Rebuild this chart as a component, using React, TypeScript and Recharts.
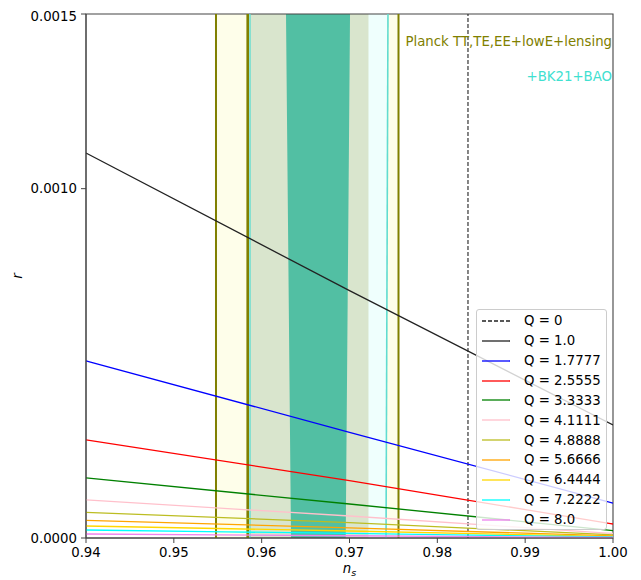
import React from 'react';
import {
  ComposedChart,
  Line,
  Area,
  XAxis,
  YAxis,
  ReferenceArea,
  ReferenceLine,
  ReferenceDot,
  Legend,
} from 'recharts';

const FONT = '"DejaVu Sans", sans-serif';

// n_s sample points of each Q curve
const NS_POINTS = [0.94, 0.97, 1.0];

// r along each curve at NS_POINTS
const R_Q1 = [0.001102, 0.000708, 0.0003235];
const R_Q17777 = [0.000507, 0.0003026, 0.0001];
const R_Q25555 = [0.000281, 0.000164, 0.00004];
const R_Q33333 = [0.000172, 0.0000973, 0.000021];
const R_Q41111 = [0.000109, 0.000063, 0.000013];
const R_Q48888 = [0.0000735, 0.000044, 0.000009];
const R_Q56666 = [0.0000507, 0.000029, 0.000006];
const R_Q64444 = [0.0000344, 0.00002, 0.000004];
const R_Q72222 = [0.0000229, 0.000013, 0.000003];
const R_Q8 = [0.0000115, 0.0000065, 0.0000015];

const Q_NAMES = ['Q = 1.0', 'Q = 1.7777', 'Q = 2.5555', 'Q = 3.3333', 'Q = 4.1111',
  'Q = 4.8888', 'Q = 5.6666', 'Q = 6.4444', 'Q = 7.2222', 'Q = 8.0'];
const Q_COLORS = ['#222222', '#0000ff', '#ff0000', '#008000', '#ffc0cb',
  '#bcbd22', '#ffa500', '#ffd700', '#00ffff', '#ee82ee'];
const Q_VALUES = [R_Q1, R_Q17777, R_Q25555, R_Q33333, R_Q41111,
  R_Q48888, R_Q56666, R_Q64444, R_Q72222, R_Q8];

// Q = 0 prediction (vertical line)
const NS_Q0 = 0.98349;

// constraint bands in n_s
const PLANCK_2SIG = [0.9548, 0.97558];
const PLANCK_1SIG_LEFT = 0.95841;
const BK_2SIG = [0.95867, 0.97427];
const BK_2SIG_RIGHT_EDGE = [0.97416, 0.97438]; // bottom, top
const OVERLAP = [0.95863, 0.97216];
const BK_1SIG_TOP = [0.96277, 0.97006];
const BK_1SIG_BOTTOM = [0.96334, 0.96957];

const X_TICKS = [0.94, 0.95, 0.96, 0.97, 0.98, 0.99, 1.0];
const Y_TICKS = [0, 0.001, 0.0015];

const seriesData = (vals: number[]) => NS_POINTS.map((ns, i) => ({ ns, r: vals[i] }));

const bk1Data = [
  { ns: BK_1SIG_BOTTOM[0], r: 0 },
  { ns: BK_1SIG_TOP[0], r: 0.0015 },
  { ns: BK_1SIG_TOP[1], r: 0.0015 },
  { ns: BK_1SIG_BOTTOM[1], r: 0 },
];

const LegendBox = () => (
  <div
    style={{
      width: 131,
      height: 221,
      boxSizing: 'border-box',
      background: 'rgba(255,255,255,0.8)',
      border: '1px solid #cccccc',
      borderRadius: 3,
      paddingTop: 1,
      fontFamily: FONT,
      fontSize: 13.3,
      color: '#000',
    }}
  >
    {['Q = 0', ...Q_NAMES].map((name, i) => (
      <div key={name} style={{ display: 'flex', alignItems: 'center', height: 19.87 }}>
        <svg width={28} height={4} style={{ marginLeft: 5 }}>
          <line
            x1={0}
            x2={28}
            y1={2}
            y2={2}
            stroke={i === 0 ? '#222' : Q_COLORS[i - 1]}
            strokeWidth={1.3}
            strokeDasharray={i === 0 ? '4 2' : undefined}
          />
        </svg>
        <span style={{ marginLeft: 14, whiteSpace: 'nowrap' }}>{name}</span>
      </div>
    ))}
  </div>
);

export default function App() {
  const tickStyle = { fill: '#000', fontSize: 13.3, fontFamily: FONT };
  return (
    <div style={{ fontFamily: FONT }}>
      <ComposedChart width={633} height={572} margin={{ top: 6, right: 28, bottom: 12, left: 18 }}>
        <XAxis
          dataKey="ns"
          type="number"
          domain={[0.94, 1.0]}
          ticks={X_TICKS}
          tickFormatter={(v: number) => v.toFixed(2)}
          allowDataOverflow
          height={30}
          tickSize={5}
          tickMargin={5}
          tick={tickStyle}
          stroke="#444"
          label={{
            content: (props: any) => {
              const vb = props.viewBox;
              return (
                <text x={vb.x + vb.width / 2} y={vb.y + 35} textAnchor="middle" fontSize={13.3}
                  fontStyle="italic" fontFamily={FONT} fill="#000">
                  n<tspan dy={3} fontSize={9.5}>s</tspan>
                </text>
              );
            },
          }}
        />
        <YAxis
          type="number"
          domain={[0, 0.0015]}
          ticks={Y_TICKS}
          tickFormatter={(v: number) => v.toFixed(4)}
          allowDataOverflow
          width={60}
          tickSize={5}
          tickMargin={4}
          tick={tickStyle}
          stroke="#444"
          label={{
            content: (props: any) => {
              const vb = props.viewBox;
              const cx = 14;
              const cy = vb.y + vb.height / 2;
              return (
                <text x={cx} y={cy} textAnchor="middle" fontSize={13.3} fontStyle="italic"
                  fontFamily={FONT} fill="#000" transform={`rotate(-90 ${cx} ${cy})`}>
                  r
                </text>
              );
            },
          }}
        />

        <ReferenceArea x1={PLANCK_2SIG[0]} x2={PLANCK_2SIG[1]} fill="#fefeea" fillOpacity={1} stroke="none" />
        <ReferenceArea x1={BK_2SIG[0]} x2={BK_2SIG[1]} fill="#effffd" fillOpacity={1} stroke="none" />
        <ReferenceArea x1={OVERLAP[0]} x2={OVERLAP[1]} fill="#d9e5cd" fillOpacity={1} stroke="none" />
        <Area
          data={bk1Data}
          dataKey="r"
          type="linear"
          fill="#52bfa3"
          fillOpacity={1}
          stroke="none"
          baseValue={0}
          isAnimationActive={false}
          legendType="none"
        />

        <ReferenceLine x={PLANCK_2SIG[0]} stroke="#808000" strokeWidth={2} />
        <ReferenceLine x={PLANCK_2SIG[1]} stroke="#808000" strokeWidth={2} />
        <ReferenceLine x={PLANCK_1SIG_LEFT} stroke="#808000" strokeWidth={2.6} />
        <ReferenceLine x={BK_2SIG[0]} stroke="#60dcd0" strokeWidth={1.4} />
        <ReferenceLine
          segment={[{ x: BK_2SIG_RIGHT_EDGE[0], y: 0 }, { x: BK_2SIG_RIGHT_EDGE[1], y: 0.0015 }]}
          stroke="#60dcd0"
          strokeWidth={1.6}
        />
        <ReferenceLine x={NS_Q0} stroke="#222" strokeDasharray="4 2" strokeWidth={1.1} />

        {Q_VALUES.map((vals, i) => (
          <Line
            key={Q_NAMES[i]}
            data={seriesData(vals)}
            dataKey="r"
            name={Q_NAMES[i]}
            type="monotone"
            stroke={Q_COLORS[i]}
            strokeWidth={1.3}
            dot={false}
            activeDot={false}
            isAnimationActive={false}
          />
        ))}

        <ReferenceDot
          x={1.0}
          y={0.0014207}
          r={0}
          fill="none"
          stroke="none"
          label={{ value: 'Planck TT,TE,EE+lowE+lensing', position: 'left', offset: 1, fill: '#808000', fontSize: 13.3, fontFamily: FONT }}
        />
        <ReferenceDot
          x={1.0}
          y={0.0013225}
          r={0}
          fill="none"
          stroke="none"
          label={{ value: '+BK21+BAO', position: 'left', offset: 1, fill: '#40e0d0', fontSize: 13.3, fontFamily: FONT }}
        />

        <ReferenceArea x1={0.94} x2={1.0} y1={0} y2={0.0015} fill="none" stroke="#444" strokeWidth={1.1} />

        <Legend
          layout="vertical"
          align="center"
          verticalAlign="middle"
          wrapperStyle={{ left: 468, top: 301, width: 131, height: 221 }}
          content={() => <LegendBox />}
        />
      </ComposedChart>
    </div>
  );
}
